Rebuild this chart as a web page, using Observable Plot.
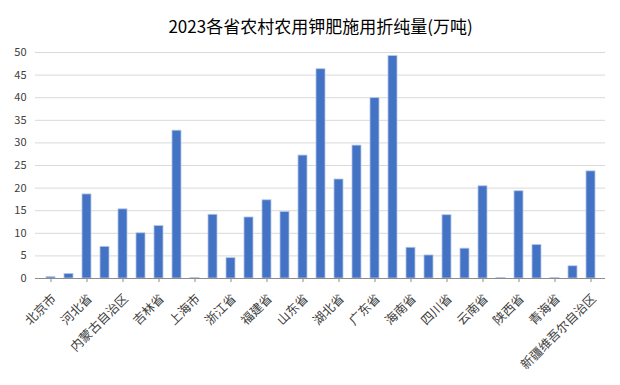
<!DOCTYPE html>
<html>
<head>
<meta charset="utf-8">
<script src="https://cdn.jsdelivr.net/npm/d3@7"></script>
<script src="https://cdn.jsdelivr.net/npm/@observablehq/plot@0.6"></script>
<style>
  html, body { margin: 0; padding: 0; background: #fff; }
  svg { font-family: "Noto Sans CJK SC", "Noto Sans", sans-serif; }
</style>
</head>
<body>
<div id="chart"></div>
<script>
const title = "2023各省农村农用钾肥施用折纯量(万吨)";
const provinces = ["北京市","天津市","河北省","山西省","内蒙古自治区","辽宁省","吉林省","黑龙江省","上海市","江苏省","浙江省","安徽省","福建省","江西省","山东省","河南省","湖北省","湖南省","广东省","广西壮族自治区","海南省","重庆市","四川省","贵州省","云南省","西藏自治区","陕西省","甘肃省","青海省","宁夏回族自治区","新疆维吾尔自治区"];
const values = [0.3,1.0,18.6,7.0,15.3,10.0,11.6,32.7,0.1,14.1,4.5,13.5,17.3,14.7,27.2,46.3,21.9,29.4,39.9,49.2,6.8,5.1,14.0,6.6,20.4,0.1,19.3,7.4,0.1,2.7,23.7];
const yTicks = [0,5,10,15,20,25,30,35,40,45,50];
const xLabels = provinces.filter((d, i) => i % 2 === 0);

const data = provinces.map((p, i) => ({province: p, value: values[i]}));

const chart = Plot.plot({
  width: 620,
  height: 385,
  marginLeft: 35,
  marginRight: 15,
  marginTop: 52,
  marginBottom: 107,
  x: {domain: provinces, paddingInner: 0.5, paddingOuter: 0.25},
  y: {domain: [0, 50]},
  marks: [
    Plot.gridY(yTicks, {stroke: "#d9d9d9", strokeOpacity: 1, strokeWidth: 1}),
    Plot.barY(data, {x: "province", y: "value", fill: "#4472C4", stroke: "#b4c7e7", strokeWidth: 0.8}),
    Plot.ruleX([0], {x: () => null, frameAnchor: "left", stroke: "#bfbfbf"}),
    Plot.ruleY([0], {stroke: "#8c8c8c"}),
    Plot.axisY(yTicks, {tickSize: 0, tickPadding: 9, fontSize: 11, fill: "#404040", label: null}),
    Plot.axisX(xLabels, {tickSize: 4, stroke: "#8c8c8c", tickFormat: () => "", label: null}),
    Plot.text(xLabels, {x: d => d, frameAnchor: "bottom", rotate: -45, textAnchor: "end", lineAnchor: "middle", dx: 3, dy: 18, fontSize: 12.5, fill: "#404040"}),
    Plot.text([title], {frameAnchor: "top", dy: -32, fontSize: 17, fill: "#000"})
  ]
});
document.getElementById("chart").appendChild(chart);
</script>
</body>
</html>
